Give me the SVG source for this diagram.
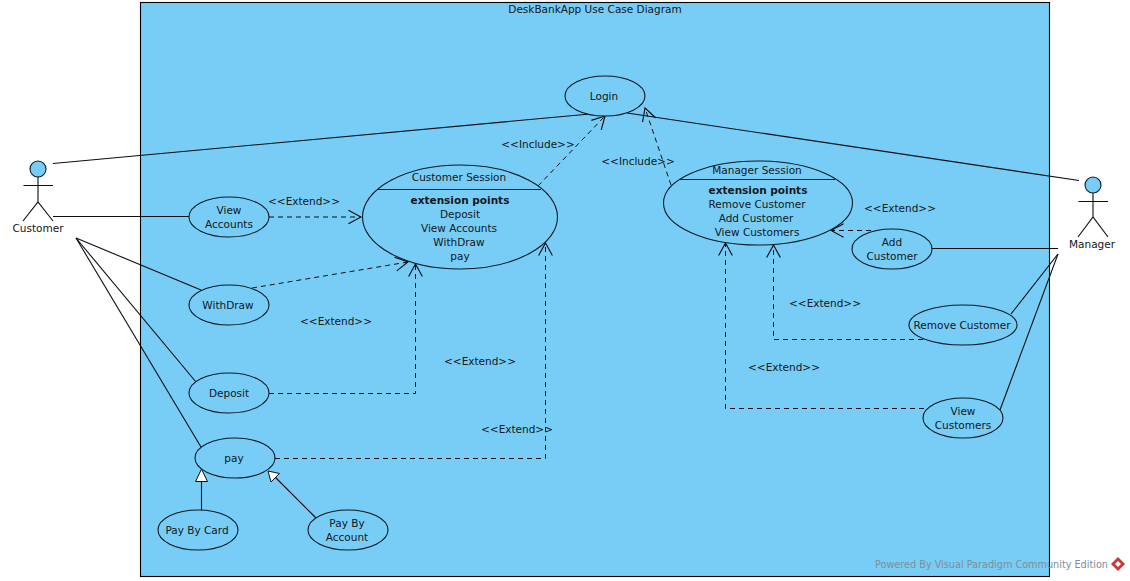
<svg xmlns="http://www.w3.org/2000/svg" width="1130" height="581" viewBox="0 0 1130 581">
<style>
text{font-family:"DejaVu Sans","Liberation Sans",sans-serif;font-size:10.5px;fill:#101820;text-anchor:middle;dominant-baseline:central}
.b{font-weight:bold}
.u{fill:#78cdf6;stroke:#0b1a26;stroke-width:1.1}
.l{fill:none;stroke:#0a0f14;stroke-width:1.1}
.d{fill:none;stroke:#0a0f14;stroke-width:1;stroke-dasharray:5 4}
.a{fill:none;stroke:#0a0f14;stroke-width:1}
.g{fill:#fff;stroke:#0a0f14;stroke-width:1}
</style>
<defs>
<marker id="open" markerUnits="userSpaceOnUse" markerWidth="16" markerHeight="16" viewBox="-13 -7 14 14" refX="0" refY="0" orient="auto"><path class="a" d="M-11 -6L0 0L-11 6"/></marker>
</defs>
<g id="frame"><rect x="140.5" y="2.5" width="909" height="574" fill="#78cdf6" stroke="#000" stroke-width="1.1"/><text x="595" y="9">DeskBankApp Use Case Diagram</text></g>
<g id="connectors">
<path class="l" d="M53 163.500L590 114"/>
<path class="l" d="M1079 180.500L627 113"/>
<path class="l" d="M53 216.500H189"/>
<path class="l" d="M76 238L201 290"/>
<path class="l" d="M76 238L196 382"/>
<path class="l" d="M76 238L201 447"/>
<path class="l" d="M932 248.500H1058"/>
<path class="l" d="M1011 314L1058 254"/>
<path class="l" d="M1000 410L1058 254"/>
<path class="d" marker-end="url(#open)" d="M269 217H361"/>
<path class="d" marker-end="url(#open)" d="M252 288L408 262"/>
<path class="d" marker-end="url(#open)" d="M269 393.500H415.500V264"/>
<path class="d" marker-end="url(#open)" d="M275 458.500H545.500V243"/>
<path class="d" marker-end="url(#open)" d="M538 186L605 116"/>
<path class="d" marker-end="url(#open)" d="M671 185L645 108"/>
<path class="d" marker-end="url(#open)" d="M880 230.500H831"/>
<path class="d" marker-end="url(#open)" d="M923 339.500H773.500V245"/>
<path class="d" marker-end="url(#open)" d="M924 408.500H725.500V243"/>
<path class="l" d="M201.500 511V481"/>
<path class="l" d="M316 518L275 477"/>
<polygon class="g" points="201.500,469 195.500,481.500 207.500,481.500"/>
<polygon class="g" points="268,471 279.500,473.500 271,482"/>
<text x="304" y="201">&lt;&lt;Extend&gt;&gt;</text>
<text x="336" y="321">&lt;&lt;Extend&gt;&gt;</text>
<text x="480" y="361">&lt;&lt;Extend&gt;&gt;</text>
<text x="517" y="429">&lt;&lt;Extend&gt;&gt;</text>
<text x="900" y="208">&lt;&lt;Extend&gt;&gt;</text>
<text x="825" y="303">&lt;&lt;Extend&gt;&gt;</text>
<text x="784" y="367">&lt;&lt;Extend&gt;&gt;</text>
<text x="538" y="144">&lt;&lt;Include&gt;&gt;</text>
<text x="638" y="161">&lt;&lt;Include&gt;&gt;</text>
</g>
<g id="customer"><circle class="u" cx="38" cy="169" r="8"/><path class="l" d="M38 177V202M23.500 185.500H53M23 221L38 202L53 221"/><text x="38" y="228">Customer</text></g>
<g id="manager"><circle class="u" cx="1093" cy="185" r="8"/><path class="l" d="M1093 193V217M1078.500 201.500H1108M1078 237L1093 217L1108 237"/><text x="1092" y="244">Manager</text></g>
<g id="login"><ellipse class="u" cx="605" cy="96" rx="40" ry="20"/><text x="604" y="96">Login</text></g>
<g id="customer-session"><ellipse class="u" cx="460" cy="217" rx="97.500" ry="52"/><path class="l" d="M378 189.500H541"/><text x="459" y="177">Customer Session</text><text class="b" x="460" y="200">extension points</text><text x="460" y="214">Deposit</text><text x="459" y="228">View Accounts</text><text x="459" y="242">WithDraw</text><text x="460" y="256">pay</text></g>
<g id="manager-session"><ellipse class="u" cx="758" cy="203" rx="94.500" ry="42"/><path class="l" d="M680 179.500H835"/><text x="757" y="170">Manager Session</text><text class="b" x="758" y="190">extension points</text><text x="757" y="204">Remove Customer</text><text x="756" y="218">Add Customer</text><text x="757" y="232">View Customers</text></g>
<g id="view-accounts"><ellipse class="u" cx="229" cy="217" rx="40" ry="20"/><text x="229" y="210">View</text><text x="229" y="224">Accounts</text></g>
<g id="withdraw"><ellipse class="u" cx="229" cy="305" rx="40" ry="20"/><text x="228" y="305">WithDraw</text></g>
<g id="deposit"><ellipse class="u" cx="229" cy="393" rx="40" ry="20"/><text x="229" y="393">Deposit</text></g>
<g id="pay"><ellipse class="u" cx="235" cy="458" rx="40" ry="20"/><text x="234" y="458">pay</text></g>
<g id="pay-by-card"><ellipse class="u" cx="198" cy="530" rx="40" ry="20"/><text x="197" y="530">Pay By Card</text></g>
<g id="pay-by-account"><ellipse class="u" cx="348" cy="530" rx="40" ry="20"/><text x="347" y="523">Pay By</text><text x="347" y="537">Account</text></g>
<g id="add-customer"><ellipse class="u" cx="892" cy="249" rx="40" ry="20"/><text x="892" y="242">Add</text><text x="892" y="256">Customer</text></g>
<g id="remove-customer"><ellipse class="u" cx="963" cy="325" rx="54" ry="20"/><text x="962" y="325">Remove Customer</text></g>
<g id="view-customers"><ellipse class="u" cx="963" cy="418" rx="40" ry="20"/><text x="963" y="411">View</text><text x="963" y="425">Customers</text></g>
<g id="watermark"><text x="991.500" y="564" textLength="233" lengthAdjust="spacingAndGlyphs" style="fill:#7b8f9a">Powered By Visual Paradigm Community Edition</text><polygon points="1118,557 1125,564 1118,571 1111,564" fill="#c8373a"/><polygon points="1118,561 1121,564 1118,567 1115,564" fill="#fff"/></g>
</svg>
